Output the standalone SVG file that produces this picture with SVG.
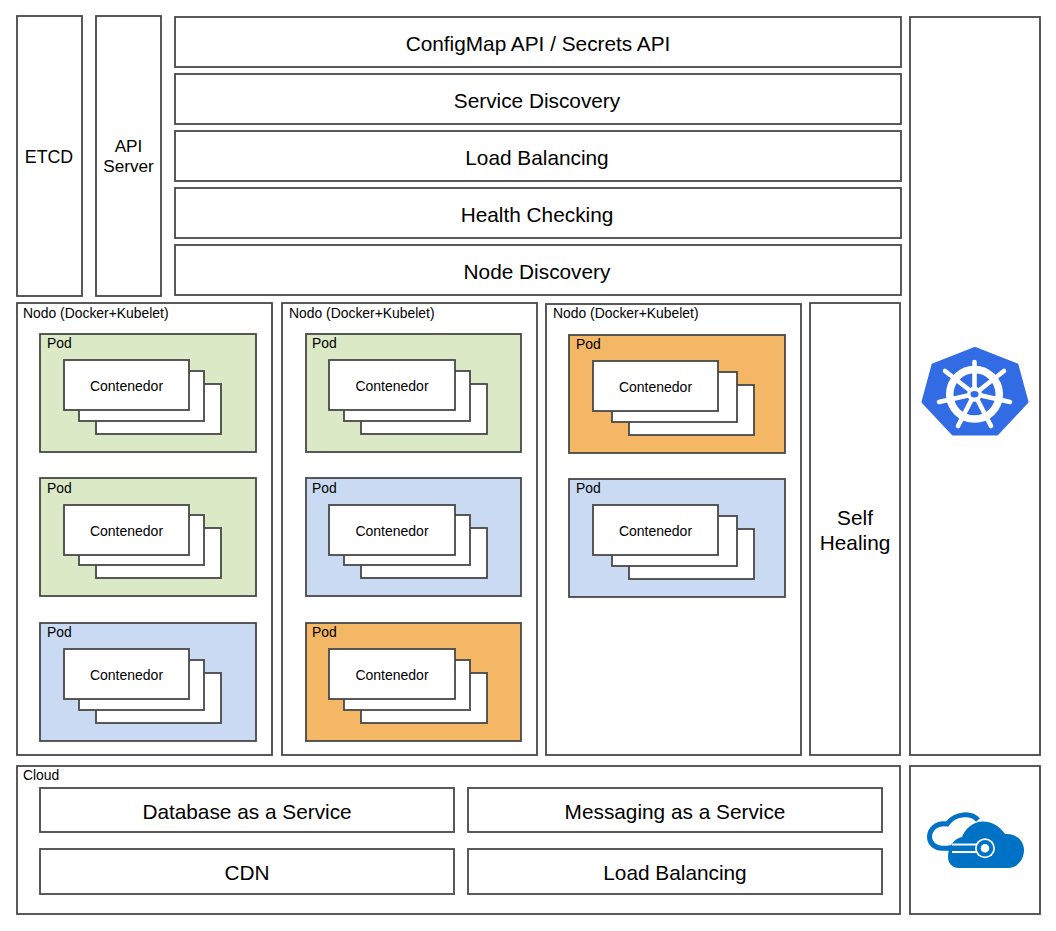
<svg xmlns="http://www.w3.org/2000/svg" width="1056" height="931" viewBox="0 0 1056 931">
<style>
rect{stroke:#484848;stroke-width:1.8;fill:#fff}
text{font-family:"Liberation Sans",Arial,sans-serif;fill:#000}
.xl{font-size:20.8px;text-anchor:middle}
.l{font-size:17.2px;text-anchor:middle}
.c{font-size:14px;text-anchor:middle}
.t{font-size:13.900px}
.g{fill:#dbe9c6}.b{fill:#c9daf2}.o{fill:#f4b766}
</style>
<rect width="1056" height="931" style="fill:#fff;stroke:none"/>
<g id="etcd"><rect x="17" y="16" width="65" height="280"/><text class="l" x="49" y="163" style="font-size:17.800px">ETCD</text></g>
<g id="api-server"><rect x="96" y="16" width="65" height="280"/><text class="l" x="128.500" y="152">API</text><text class="l" x="128.500" y="172">Server</text></g>
<g id="configmap"><rect x="175" y="17" width="726" height="50"/><text class="xl" x="538" y="51">ConfigMap API / Secrets API</text></g>
<g id="service-discovery"><rect x="175" y="74" width="726" height="50"/><text class="xl" x="537" y="108">Service Discovery</text></g>
<g id="load-balancing"><rect x="175" y="131" width="726" height="50"/><text class="xl" x="537" y="165">Load Balancing</text></g>
<g id="health-checking"><rect x="175" y="188" width="726" height="50"/><text class="xl" x="537" y="222">Health Checking</text></g>
<g id="node-discovery"><rect x="175" y="245" width="726" height="50"/><text class="xl" x="537" y="279">Node Discovery</text></g>
<g id="kubernetes"><rect x="910" y="17" width="130" height="738"/>
<path d="M975 348.500L1017 365L1027 402L997 434L953 434L923 402L933 365Z" fill="#326ce5" stroke="#326ce5" stroke-width="3" stroke-linejoin="round"/>
<g fill="none" stroke="#fff" stroke-linecap="round"><circle cx="974.500" cy="394.300" r="24.800" stroke-width="7.500"/>
<path stroke-width="4.600" d="M974.500 394V362M974.500 394L1004 371M974.500 394L1010 402M974.500 394L991 426M974.500 394L958 426M974.500 394L939 402M974.500 394L945 371"/></g>
<circle cx="974.500" cy="394.300" r="7.500" fill="#fff"/><ellipse cx="974.500" cy="394.300" rx="4" ry="3.300" fill="#326ce5"/></g>
<g id="nodo-1"><rect x="17" y="303" width="255" height="452"/><text class="t" x="23" y="318">Nodo (Docker+Kubelet)</text>
<g id="pod-1a"><rect class="g" x="40" y="334" width="216" height="118"/><text class="t" x="47" y="348">Pod</text><rect x="96" y="384" width="125" height="50"/><rect x="79" y="371" width="125" height="50"/><rect x="64" y="360" width="125" height="50"/><text class="c" x="126.500" y="391">Contenedor</text></g>
<g id="pod-1b"><rect class="g" x="40" y="478" width="216" height="118"/><text class="t" x="47" y="493">Pod</text><rect x="96" y="528" width="125" height="50"/><rect x="79" y="515" width="125" height="50"/><rect x="64" y="505" width="125" height="50"/><text class="c" x="126.500" y="536">Contenedor</text></g>
<g id="pod-1c"><rect class="b" x="40" y="623" width="216" height="118"/><text class="t" x="47" y="637">Pod</text><rect x="96" y="673" width="125" height="50"/><rect x="79" y="660" width="125" height="50"/><rect x="64" y="649" width="125" height="50"/><text class="c" x="126.500" y="680">Contenedor</text></g></g>
<g id="nodo-2"><rect x="282" y="303" width="255" height="452"/><text class="t" x="289" y="318">Nodo (Docker+Kubelet)</text>
<g id="pod-2a"><rect class="g" x="306" y="334" width="215" height="118"/><text class="t" x="312" y="348">Pod</text><rect x="361" y="384" width="126" height="50"/><rect x="344" y="371" width="126" height="50"/><rect x="329" y="360" width="126" height="50"/><text class="c" x="392" y="391">Contenedor</text></g>
<g id="pod-2b"><rect class="b" x="306" y="478" width="215" height="118"/><text class="t" x="312" y="493">Pod</text><rect x="361" y="528" width="126" height="50"/><rect x="344" y="515" width="126" height="50"/><rect x="329" y="505" width="126" height="50"/><text class="c" x="392" y="536">Contenedor</text></g>
<g id="pod-2c"><rect class="o" x="306" y="623" width="215" height="118"/><text class="t" x="312" y="637">Pod</text><rect x="361" y="673" width="126" height="50"/><rect x="344" y="660" width="126" height="50"/><rect x="329" y="649" width="126" height="50"/><text class="c" x="392" y="680">Contenedor</text></g></g>
<g id="nodo-3"><rect x="546" y="304" width="255" height="451"/><text class="t" x="553" y="318">Nodo (Docker+Kubelet)</text>
<g id="pod-3a"><rect class="o" x="569" y="335" width="216" height="118"/><text class="t" x="576" y="349">Pod</text><rect x="629" y="385" width="125" height="50"/><rect x="612" y="372" width="125" height="50"/><rect x="593" y="361" width="125" height="50"/><text class="c" x="655.500" y="392">Contenedor</text></g>
<g id="pod-3b"><rect class="b" x="569" y="479" width="216" height="118"/><text class="t" x="576" y="493">Pod</text><rect x="629" y="529" width="125" height="50"/><rect x="612" y="516" width="125" height="50"/><rect x="593" y="505" width="125" height="50"/><text class="c" x="655.500" y="536">Contenedor</text></g></g>
<g id="self-healing"><rect x="810" y="303" width="90" height="452"/><text class="xl" x="855" y="525">Self</text><text class="xl" x="855" y="550">Healing</text></g>
<g id="cloud"><rect x="17" y="766" width="883" height="148"/><text class="t" x="23" y="780">Cloud</text>
<g id="daas"><rect x="40" y="788" width="414" height="44"/><text class="xl" x="247" y="819">Database as a Service</text></g>
<g id="maas"><rect x="468" y="788" width="414" height="44"/><text class="xl" x="675" y="819">Messaging as a Service</text></g>
<g id="cdn"><rect x="40" y="849" width="414" height="45"/><text class="xl" x="247" y="880">CDN</text></g>
<g id="lb-cloud"><rect x="468" y="849" width="414" height="45"/><text class="xl" x="675" y="880">Load Balancing</text></g></g>
<g id="azure"><rect x="910" y="766" width="130" height="148"/>
<path d="M978 820C972 813 956 812 947 824C936 822 929.500 830 929.500 837C929.500 844 936 848.300 942 848.300H981" fill="none" stroke="#0072c6" stroke-width="5"/>
<path d="M959 868H1008C1017 868 1024 860 1024 850C1024 841 1016 833 1005 834C1000 826 991 821.500 983 821.500C973 821.500 965 829 962 837C955 838 948 846 948 857C948 863 952 868 959 868Z" fill="#0072c6"/>
<path d="M952 848.300H981" stroke="#fff" stroke-width="9.500" fill="none"/><path d="M948 848.300H981" stroke="#0072c6" stroke-width="5.500" fill="none"/>
<circle cx="985" cy="848.300" r="10" fill="#fff"/><circle cx="985" cy="848.300" r="6.300" fill="#fff" stroke="#0072c6" stroke-width="4"/></g>
<g id="connectors"/>
</svg>
